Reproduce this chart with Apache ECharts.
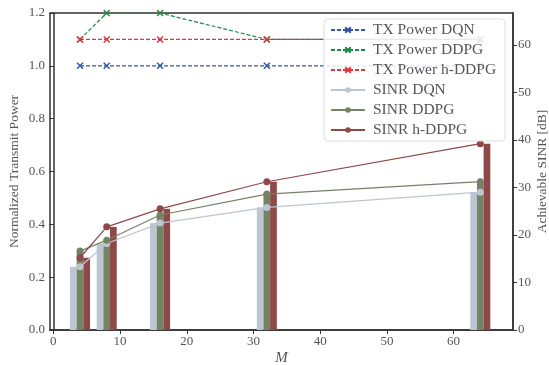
<!DOCTYPE html>
<html>
<head>
<meta charset="utf-8">
<script src="https://cdn.jsdelivr.net/npm/echarts@6/dist/echarts.min.js"></script>
<style>
  html, body { margin: 0; padding: 0; background: #fff; }
  #main { width: 549px; height: 365px; }
</style>
</head>
<body>
<div id="main"></div>
<script>
// number of antennas M
const mValues = [4, 8, 16, 32, 64];

// normalized transmit power (left axis)
const txDqn = [1.0, 1.0, 1.0, 1.0, 1.0];
const txDdpg = [1.1, 1.2, 1.2, 1.1, 1.1];
const txHddpg = [1.1, 1.1, 1.1, 1.1, 1.1];

// achievable SINR in dB (right axis)
const sinrDqn = [13.3, 18.2, 22.5, 25.8, 29.0];
const sinrDdpg = [16.6, 18.9, 24.2, 28.6, 31.2];
const sinrHddpg = [15.2, 21.7, 25.5, 31.2, 39.2];

const xTicks = [0, 10, 20, 30, 40, 50, 60];
const rightTicks = [0, 10, 20, 30, 40, 50, 60];

const font = "'Liberation Serif', serif";
const txtColor = "#555";

const pairs = (ys, shift) => mValues.map((m, i) => [m + (shift || 0), ys[i]]);

const chartDom = document.querySelector("#main");
const myChart = echarts.init(chartDom, null, { renderer: "canvas" });

const txSeries = (name, ys, color) => ({
    name: name,
    type: "line",
    yAxisIndex: 0,
    data: pairs(ys),
    symbol: "path://M0,0L10,10M10,0L0,10",
    symbolSize: 6,
    lineStyle: { color: color, width: 1.2, type: [4, 2] },
    itemStyle: { color: color, borderColor: color, borderWidth: 1.5 },
    z: 5,
});

const sinrSeries = (name, ys, color) => ({
    name: name,
    type: "line",
    yAxisIndex: 1,
    data: pairs(ys),
    symbol: "circle",
    symbolSize: 7,
    lineStyle: { color: color, width: 1.2 },
    itemStyle: { color: color },
    z: 4,
});

// bars sit one M-unit left / on / right of each M value
const barSeries = (ys, shift, color) => ({
    name: "bar",
    type: "bar",
    yAxisIndex: 1,
    data: pairs(ys, shift),
    barWidth: 6.7,
    barGap: "-100%",
    itemStyle: { color: color },
    z: 2,
});

const option = {
    animation: false,
    textStyle: { fontFamily: font },
    grid: {
        left: 50, right: 36, top: 13, bottom: 35,
        containLabel: false,
        outerBoundsMode: "none",
        show: true, borderColor: "#333", borderWidth: 1.5,
    },
    legend: {
        data: ["TX Power DQN", "TX Power DDPG", "TX Power h-DDPG", "SINR DQN", "SINR DDPG", "SINR h-DDPG"],
        orient: "vertical",
        left: 324,
        top: 19,
        z: 20,
        itemWidth: 34,
        itemHeight: 7,
        itemGap: 4,
        padding: [3, 9, 3, 6],
        backgroundColor: "rgba(255,255,255,0.85)",
        borderColor: "#ddd",
        borderWidth: 1,
        borderRadius: 4,
        textStyle: { fontFamily: font, fontSize: 15.5, color: txtColor, padding: [0, 0, 0, 3] },
    },
    xAxis: {
        type: "value",
        min: -0.5,
        max: 68.9,
        name: "M",
        nameLocation: "middle",
        nameGap: 21,
        nameMoveOverlap: false,
        nameTextStyle: { fontFamily: font, fontStyle: "italic", fontSize: 15, color: txtColor },
        axisLine: { show: true, lineStyle: { color: "#333", width: 1.5 } },
        axisTick: { show: true, length: 4, customValues: xTicks, lineStyle: { color: "#333" } },
        axisLabel: { customValues: xTicks, fontSize: 13, color: txtColor, margin: 5 },
        splitLine: { show: false },
    },
    yAxis: [
        {
            type: "value",
            min: 0,
            max: 1.2,
            interval: 0.2,
            name: "Normalized Transmit Power",
            nameLocation: "middle",
            nameGap: 29,
            nameMoveOverlap: false,
            nameTextStyle: { fontFamily: font, fontSize: 13.5, color: txtColor },
            axisLine: { show: true, lineStyle: { color: "#333", width: 1.5 } },
            axisTick: { show: true, length: 4, lineStyle: { color: "#333" } },
            axisLabel: { fontSize: 13, color: txtColor, margin: 5, formatter: (v) => v.toFixed(1) },
            splitLine: { show: false },
        },
        {
            type: "value",
            min: 0,
            max: 66.7,
            position: "right",
            name: "Achievable SINR [dB]",
            nameLocation: "middle",
            nameGap: 22,
            nameRotate: 90,
            nameMoveOverlap: false,
            nameTextStyle: { fontFamily: font, fontSize: 13.5, color: txtColor },
            axisLine: { show: true, lineStyle: { color: "#333", width: 1.5 } },
            axisTick: { show: true, length: 4, customValues: rightTicks, lineStyle: { color: "#333" } },
            axisLabel: { customValues: rightTicks, fontSize: 13, color: txtColor, margin: 5 },
            splitLine: { show: false },
        },
    ],
    series: [
        barSeries(sinrDqn, -1, "#bcc6d3"),
        barSeries(sinrDdpg, 0, "#738463"),
        barSeries(sinrHddpg, 1, "#8e4848"),
        txSeries("TX Power DQN", txDqn, "#3356a8"),
        txSeries("TX Power DDPG", txDdpg, "#218a4a"),
        txSeries("TX Power h-DDPG", txHddpg, "#e2343a"),
        sinrSeries("SINR DQN", sinrDqn, "#bcc6d3"),
        sinrSeries("SINR DDPG", sinrDdpg, "#738463"),
        sinrSeries("SINR h-DDPG", sinrHddpg, "#8e4848"),
    ],
};

myChart.setOption(option);
</script>
</body>
</html>
